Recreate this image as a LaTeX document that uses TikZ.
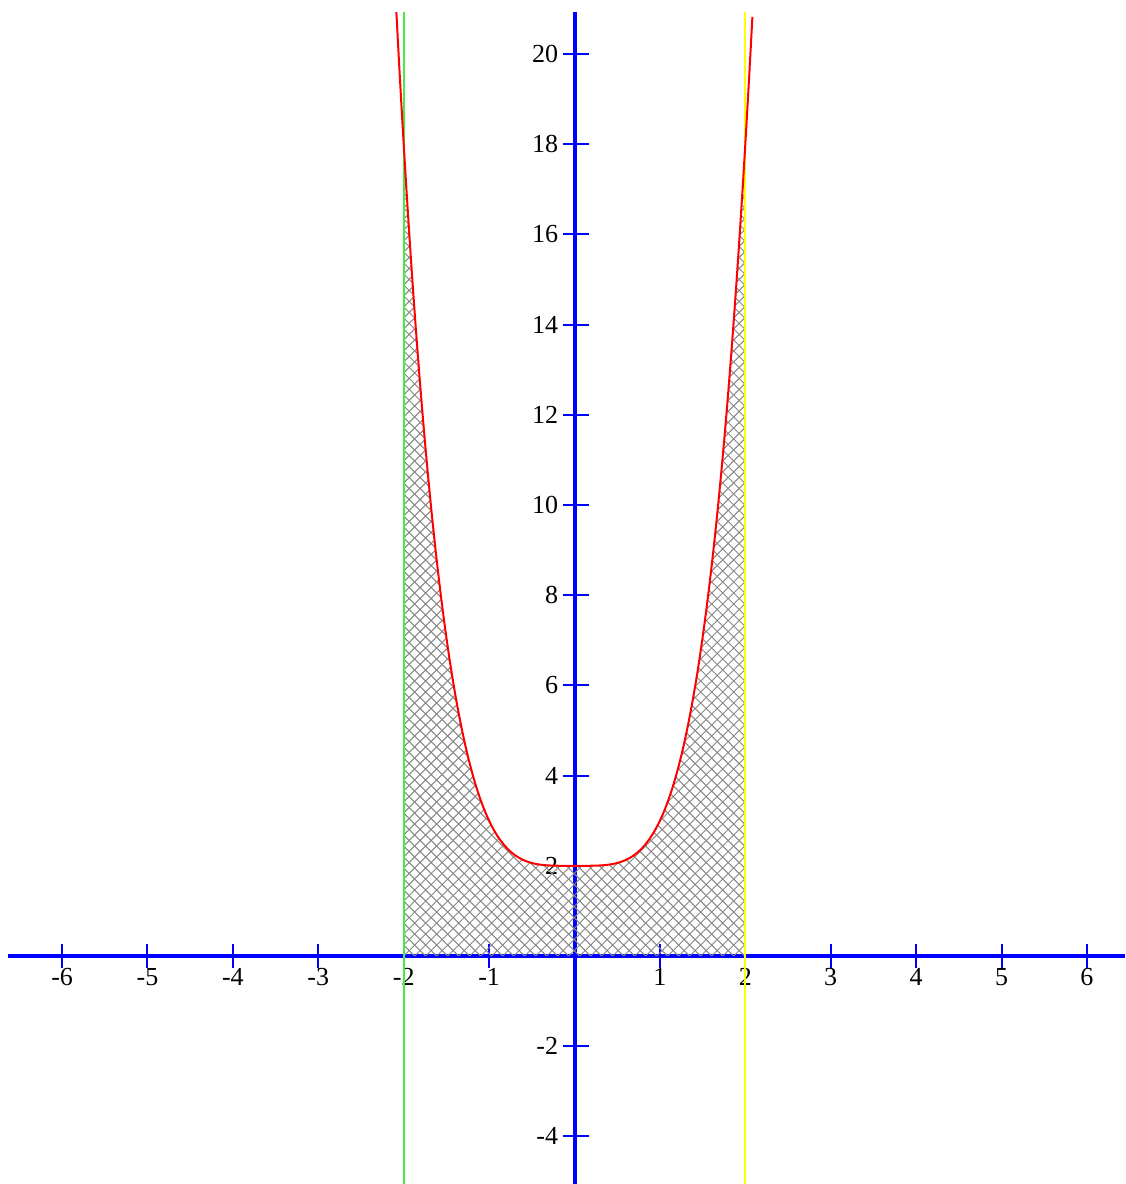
\documentclass[tikz,border=0pt]{standalone}
\usepackage{fontspec}
\setmainfont{Liberation Serif}
\usetikzlibrary{calc}
\definecolor{axisblue}{RGB}{0,0,255}
\definecolor{curvered}{RGB}{255,0,0}
\definecolor{leftgreen}{RGB}{70,235,70}
\definecolor{rightyellow}{RGB}{255,255,0}
\definecolor{hatchgray}{RGB}{135,135,135}

\begin{document}
\begin{tikzpicture}[x=42.7pt, y=22.55pt,
    axis/.style={axisblue,line width=2pt},
    tick/.style={axisblue,line width=1pt},
    lbl/.style={font=\fontsize{13}{15}\selectfont,inner sep=0pt},
    hatchline/.style={hatchgray,line width=0.5pt},
    bound/.style={line width=1pt}]
    \useasboundingbox (-6.727,-5.055) rectangle (6.446,21.197);
    \draw[axis] (-6.63,0) -- (6.446,0);
    \draw[axis] (0,-5.055) -- (0,20.93);
    \foreach \x [count=\i] in {-6,...,-1,1,2,...,6} {
      \draw[tick] (\x,0) ++(0,-6pt) -- ++(0,12pt);
      \node[lbl,anchor=north] (xl\i) at ($(\x,0)+(0,-6pt)$) {\x};
    }
    \foreach \y [count=\i] in {-4,-2,2,4,...,20} {
      \draw[tick] (0,\y) ++(-6pt,0) -- ++(13pt,0);
      \node[lbl,anchor=east] (yl\i) at ($(0,\y)+(-8pt,0)$) {\y};
    }
    \begin{scope}
      \clip (-2,0) -- plot[domain=-2:2,samples=121] (\x,{\x*\x*\x*\x+2}) -- (2,0) -- cycle;
      \foreach \k in {-80,...,35}
        \draw[hatchline] ($(-2,0)+(\k*5.5pt,0)$) -- ++(420pt,420pt);
      \foreach \k in {0,...,110}
        \draw[hatchline] ($(-2,0)+(\k*5.5pt,0)$) -- ++(-420pt,420pt);
    \end{scope}
    \draw[bound,leftgreen] (-2,-5.055) -- (-2,20.93);
    \draw[bound,rightyellow] (2,-5.055) -- (2,20.93);
    \draw[curvered,line width=1pt] plot[domain=-2.0858:2.0858,samples=201,smooth] (\x,{\x*\x*\x*\x+2});
  \end{tikzpicture}
\end{document}
